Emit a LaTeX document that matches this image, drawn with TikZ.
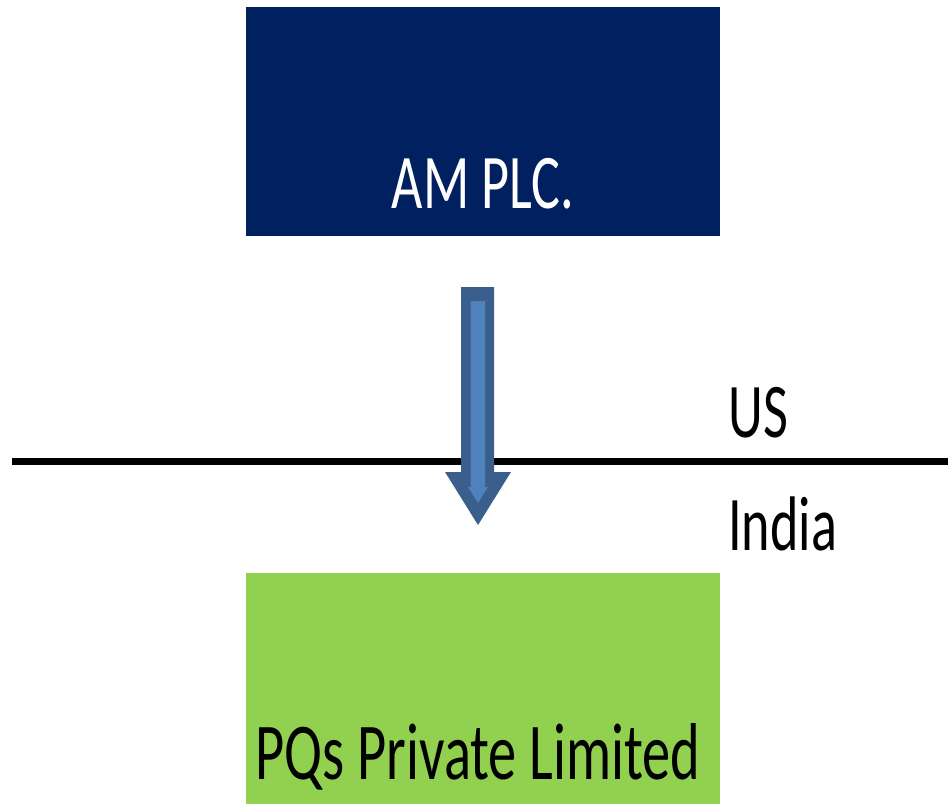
\documentclass[tikz,border=0pt]{standalone}
\usepackage{fontspec}
\setmainfont{Carlito}[FakeStretch=0.7]
\definecolor{navy}{HTML}{002060}
\definecolor{leaf}{HTML}{92D050}
\definecolor{arrowedge}{HTML}{3A5F8C}
\definecolor{arrowfill}{HTML}{4F81BD}
\tikzset{
  entity/.style={rectangle, inner sep=0pt, minimum width=355.5pt, minimum height=171.75pt, anchor=north west},
  bigtext/.style={inner sep=0pt, anchor=base, font=\fontsize{58}{60}\selectfont},
  sidetext/.style={inner sep=0pt, anchor=base west, font=\fontsize{58}{60}\selectfont},
}
\begin{document}
\begin{tikzpicture}[x=0.75pt, y=-0.75pt]
  \useasboundingbox (0,0) rectangle (948,804);
  % company boxes
  \node[entity, fill=navy] (parent) at (246,7) {};
  \node[entity, fill=leaf, minimum height=173.25pt] (sub) at (246,573) {};
  \node[bigtext, text=white] (parentlabel) at (483,208) {AM PLC.};
  \node[bigtext, text=black, font=\fontsize{60.5}{62}\selectfont] (sublabel) at (478,779) {PQs Private Limited};
  % country border
  \coordinate (west) at (12,461);
  \coordinate (east) at (948,461);
  \draw[line width=5.25pt] (west) -- (east);
  \node[sidetext] (us) at (728,437) {US};
  \node[sidetext] (india) at (728,550) {India};
  % investment arrow
  \fill[arrowedge] (461,287) -- (494,287) -- (494,472) -- (511,472) -- (478,525) -- (445,472) -- (461,472) -- cycle;
  \fill[arrowfill] (470.5,301) -- (485,301) -- (485,487) -- (488,487) -- (478,503) -- (468,487) -- (470.5,487) -- cycle;
\end{tikzpicture}
\end{document}
